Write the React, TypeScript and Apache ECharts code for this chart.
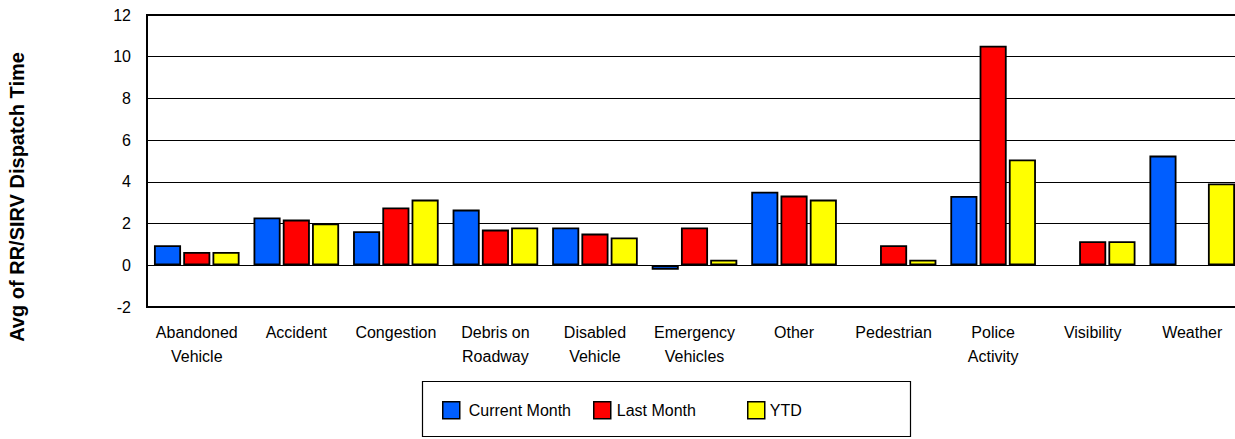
import React, { useEffect, useRef } from "react";
import * as echarts from "echarts";

const categories = [
  "Abandoned\nVehicle",
  "Accident",
  "Congestion",
  "Debris on\nRoadway",
  "Disabled\nVehicle",
  "Emergency\nVehicles",
  "Other",
  "Pedestrian",
  "Police\nActivity",
  "Visibility",
  "Weather",
];

const currentMonth: (number | null)[] = [0.96, 2.29, 1.63, 2.67, 1.81, -0.21, 3.53, null, 3.32, null, 5.26];
const lastMonth: (number | null)[] = [0.64, 2.19, 2.77, 1.71, 1.52, 1.81, 3.34, 0.96, 10.53, 1.15, null];
const ytd: (number | null)[] = [0.64, 2.0, 3.15, 1.81, 1.33, 0.27, 3.15, 0.27, 5.07, 1.15, 3.92];

const seriesNames = ["Current Month", "Last Month", "YTD"];
const seriesColors = ["#005EFF", "#FF0000", "#FFFF00"];
const yTitle = "Avg of RR/SIRV Dispatch Time";

const FONT = "'Liberation Sans', Arial, Helvetica, sans-serif";
const legendLefts = [442, 593, 747];
const legendTextPad = [4, 1, 0];

export default function App() {
  const ref = useRef<HTMLDivElement>(null);

  useEffect(() => {
    if (!ref.current) return;
    const chart = echarts.init(ref.current, undefined, { renderer: "svg" });
    const datasets = [currentMonth, lastMonth, ytd];
    chart.setOption({
      animation: false,
      backgroundColor: "#fff",
      textStyle: { fontFamily: FONT },
      grid: {
        left: 147,
        right: 0,
        top: 15,
        bottom: 132,
        show: true,
        borderColor: "#000",
        borderWidth: 2,
        backgroundColor: "transparent",
      },
      legend: seriesNames.map((name, i) => ({
        left: legendLefts[i],
        top: 401,
        padding: 0,
        itemWidth: 17,
        itemHeight: 17,
        icon: "rect",
        itemStyle: { borderColor: "#000", borderWidth: 1.5 },
        textStyle: { fontSize: 16, color: "#000", fontFamily: FONT, padding: [0, 0, 0, legendTextPad[i]] },
        data: [name],
      })),
      xAxis: {
        type: "category",
        data: categories,
        axisLine: { show: false, onZero: false },
        axisTick: { show: false },
        axisLabel: {
          interval: 0,
          margin: 13,
          fontSize: 16,
          lineHeight: 24,
          color: "#000",
          fontFamily: FONT,
        },
      },
      yAxis: {
        type: "value",
        min: -2,
        max: 12,
        interval: 2,
        axisLine: { show: false },
        axisTick: { show: false },
        axisLabel: { margin: 16, fontSize: 16, color: "#000", fontFamily: FONT },
        splitLine: { show: true, lineStyle: { color: "#000", width: 1 } },
      },
      graphic: [
        {
          type: "rect",
          shape: { x: 422.5, y: 381.5, width: 488, height: 55 },
          style: { fill: "none", stroke: "#000", lineWidth: 1.2 },
          silent: true,
        },
        {
          type: "text",
          x: 17,
          y: 197,
          rotation: Math.PI / 2,
          style: {
            text: yTitle,
            fontSize: 20,
            fontWeight: "bold",
            fontFamily: FONT,
            fill: "#000",
            align: "center",
            verticalAlign: "middle",
          },
        },
      ],
      series: datasets.map((d, i) => ({
        name: seriesNames[i],
        type: "bar",
        data: d,
        barGap: "8%",
        barCategoryGap: "14%",
        itemStyle: { color: seriesColors[i], borderColor: "#000", borderWidth: 1.8 },
      })),
    });
    return () => chart.dispose();
  }, []);

  return (
    <div style={{ position: "fixed", left: 0, top: 0, width: 1235, height: 439, overflow: "hidden", background: "#fff" }}>
      <div ref={ref} style={{ width: 1242, height: 439 }} />
    </div>
  );
}
